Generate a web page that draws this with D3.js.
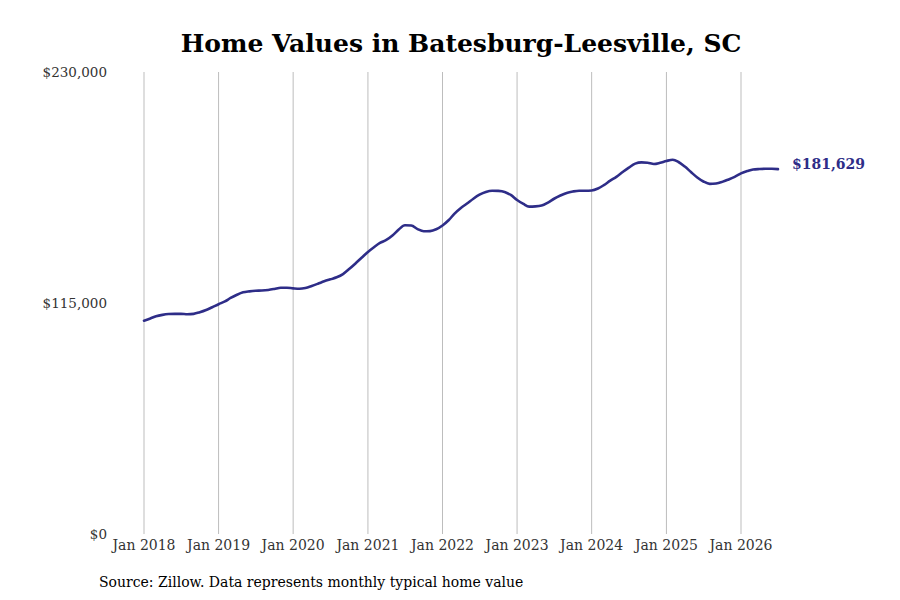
<!DOCTYPE html>
<html>
<head>
<meta charset="utf-8">
<script src="https://cdn.jsdelivr.net/npm/d3@7"></script>
<style>
  body { margin: 0; background: #fff; }
  svg { display: block; }
  text { font-family: "DejaVu Serif", serif; }
</style>
</head>
<body>
<div id="chart"></div>
<script>
// monthly typical home value, Jan 2018 .. Jul 2026
const startMonth = "2018-01";
const homeValues = [
  106200, 107300, 108400, 109100, 109500, 109600, 109600, 109400, 109600, 110400, 111500, 112900,
  114400, 115800, 117500, 119100, 120300, 120800, 121100, 121200, 121500, 122000, 122600, 122600,
  122300, 122100, 122500, 123500, 124600, 125800, 126800, 127800, 129400, 131900, 134700, 137500,
  140400, 142900, 144900, 146400, 148600, 151600, 153700, 153600, 151800, 150700, 150800, 151700,
  153600, 156300, 159500, 162300, 164500, 166900, 168900, 170300, 170900, 170800, 170300, 168800,
  166300, 164300, 163000, 163100, 163500, 165000, 166900, 168500, 169800, 170500, 170900, 170900,
  171000, 172000, 173700, 175900, 177800, 180200, 182400, 184400, 185000, 184800, 184200, 184800,
  185700, 186300, 185200, 182900, 180200, 177500, 175500, 174300, 174500, 175300, 176500, 177800,
  179500, 180700, 181500, 181700, 181800, 181800, 181629
];
const yTicks = [0, 115000, 230000];
const xTickYears = [2018, 2019, 2020, 2021, 2022, 2023, 2024, 2025, 2026];

const width = 900, height = 600;
const margin = { top: 72, right: 159, bottom: 66, left: 144 };

const parseMonth = d3.timeParse("%Y-%m");
const start = parseMonth(startMonth);
const data = homeValues.map((v, i) => ({ date: d3.timeMonth.offset(start, i), value: v }));

const svg = d3.select("#chart").append("svg")
    .attr("width", width)
    .attr("height", height);

const x = d3.scaleTime()
    .domain([new Date(2018, 0, 1), new Date(2026, 0, 1)])
    .range([margin.left, width - margin.right]);

const y = d3.scaleLinear()
    .domain([0, 230000])
    .range([height - margin.bottom, margin.top]);

// vertical gridlines at each January
svg.append("g")
  .selectAll("line")
  .data(xTickYears)
  .join("line")
    .attr("x1", d => x(new Date(d, 0, 1)))
    .attr("x2", d => x(new Date(d, 0, 1)))
    .attr("y1", y(230000))
    .attr("y2", y(0))
    .attr("stroke", "#bdbdbd")
    .attr("stroke-width", 1);

// x tick labels
svg.append("g")
  .selectAll("text")
  .data(xTickYears)
  .join("text")
    .attr("x", d => x(new Date(d, 0, 1)))
    .attr("y", y(0) + 16)
    .attr("text-anchor", "middle")
    .attr("font-size", "14px")
    .attr("fill", "#333")
    .text(d => d3.timeFormat("%b %Y")(new Date(d, 0, 1)));

// y tick labels
svg.append("g")
  .selectAll("text")
  .data(yTicks)
  .join("text")
    .attr("x", 107)
    .attr("y", d => y(d))
    .attr("dy", "0.35em")
    .attr("text-anchor", "end")
    .attr("font-size", "13.5px")
    .attr("fill", "#333")
    .text(d => "$" + d3.format(",")(d));

// the line
const line = d3.line()
    .x(d => x(d.date))
    .y(d => y(d.value))
    .curve(d3.curveMonotoneX);

svg.append("path")
    .datum(data)
    .attr("fill", "none")
    .attr("stroke", "#2e2d88")
    .attr("stroke-width", 2.6)
    .attr("stroke-linejoin", "round")
    .attr("stroke-linecap", "round")
    .attr("d", line);

// end value label, sits a little above the line end
const last = data[data.length - 1];
svg.append("text")
    .attr("x", x(last.date) + 14)
    .attr("y", y(last.value) - 5)
    .attr("dy", "0.35em")
    .attr("font-size", "14px")
    .attr("font-weight", "bold")
    .attr("fill", "#2e2d88")
    .text("$" + d3.format(",")(last.value));

// title
svg.append("text")
    .attr("x", 461)
    .attr("y", 52)
    .attr("text-anchor", "middle")
    .attr("font-size", "25px")
    .attr("font-weight", "bold")
    .attr("fill", "#000")
    .text("Home Values in Batesburg-Leesville, SC");

// source note
svg.append("text")
    .attr("x", 99)
    .attr("y", 587)
    .attr("font-size", "14px")
    .attr("fill", "#000")
    .text("Source: Zillow. Data represents monthly typical home value");
</script>
</body>
</html>
